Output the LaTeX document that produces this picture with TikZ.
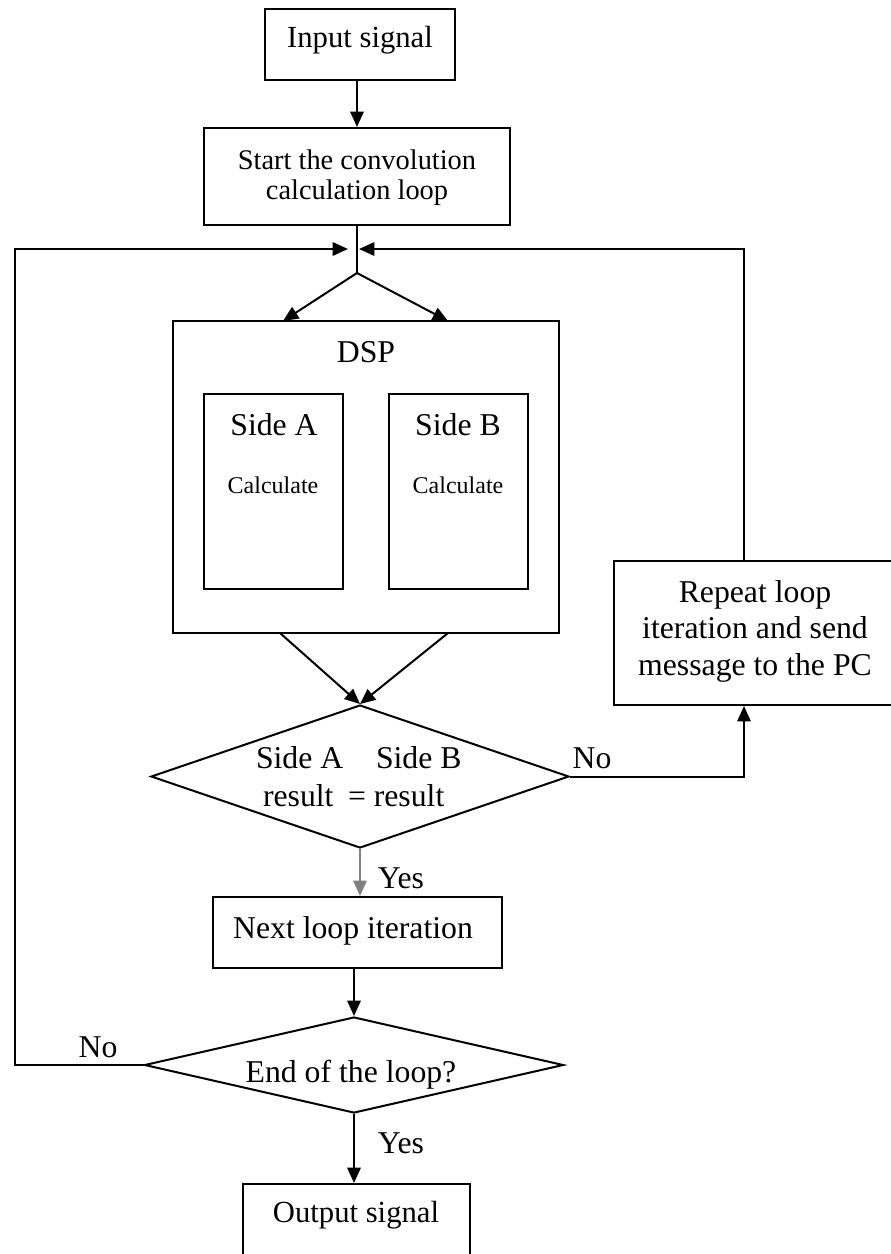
\documentclass[tikz,border=0pt]{standalone}
\usepackage{fontspec}
\setmainfont{Liberation Serif}
\usetikzlibrary{arrows.meta,shapes.geometric}
\begin{document}
\begin{tikzpicture}[x=0.75pt,y=-0.75pt,
  line width=1.5pt,
  box/.style={draw, rectangle, inner sep=0pt},
  dec/.style={draw, diamond, inner sep=0pt},
  txt/.style={inner sep=0pt, anchor=base, font=\fontsize{23.8}{27}\selectfont},
  small/.style={inner sep=0pt, anchor=base, font=\fontsize{18}{21}\selectfont},
  flow/.style={-{Triangle[length=11.5pt,width=10pt]}},
]
\useasboundingbox (0,0) rectangle (890,1254);

% process boxes
\node[box, minimum width=190*0.75pt, minimum height=71*0.75pt] (in) at (360,44.5) {};
\node[box, minimum width=306*0.75pt, minimum height=97*0.75pt] (start) at (357,176.5) {};
\node[box, minimum width=386*0.75pt, minimum height=312*0.75pt] (dsp) at (366,477) {};
\node[box, minimum width=139*0.75pt, minimum height=195*0.75pt] (sa) at (273.5,491.5) {};
\node[box, minimum width=139*0.75pt, minimum height=195*0.75pt] (sb) at (458.5,491.5) {};
\node[box, minimum width=292*0.75pt, minimum height=144*0.75pt] (rep) at (760,633) {};
\node[box, minimum width=289*0.75pt, minimum height=71*0.75pt] (next) at (357.5,932.5) {};
\node[box, minimum width=227*0.75pt, minimum height=80*0.75pt] (out) at (356.5,1224) {};

% decisions
\node[dec, minimum width=418*0.75pt, minimum height=143*0.75pt] (d1) at (360,776.5) {};
\node[dec, minimum width=419*0.75pt, minimum height=96*0.75pt] (d2) at (354,1065) {};

% texts
\node[txt, font=\fontsize{23}{26}\selectfont] (tin) at (360,47) {Input signal};
\node[txt, font=\fontsize{21.3}{22.5}\selectfont] (tst1) at (357,169) {Start the convolution};
\node[txt, font=\fontsize{21.3}{22.5}\selectfont] (tst2) at (357,199) {calculation loop};
\node[txt] (tdsp) at (366,362) {DSP};
\node[txt] (tsa) at (274,435) {Side A};
\node[txt] (tsb) at (458,435) {Side B};
\node[small] (tca) at (273,493) {Calculate};
\node[small] (tcb) at (458,493) {Calculate};
\node[txt, anchor=base west] (td1a) at (255,768) {Side A};
\node[txt, anchor=base west] (td1b) at (375,768) {Side B};
\node[txt, anchor=base west] (td1c) at (262,806) {result};
\node[txt, anchor=base west] (td1d) at (347,806) {= result};
\node[txt] (trep1) at (755,602) {Repeat loop};
\node[txt] (trep2) at (755,638) {iteration and send};
\node[txt] (trep3) at (755,675) {message to the PC};
\node[txt] (tno1) at (592,768) {No};
\node[txt] (tyes1) at (401,888) {Yes};
\node[txt] (tnext) at (353,938) {Next loop iteration};
\node[txt] (td2) at (351,1082) {End of the loop?};
\node[txt] (tno2) at (98,1057) {No};
\node[txt] (tyes2) at (401,1153) {Yes};
\node[txt, font=\fontsize{23}{26}\selectfont] (tout) at (356,1222) {Output signal};

% junction points of the loop
\coordinate (split) at (357,273);
\coordinate (mL) at (348,249);
\coordinate (mR) at (359,249);
\coordinate (lx) at (15,249);
\coordinate (rx) at (744,249);
\coordinate (dinA) at (283,321);
\coordinate (dinB) at (448,321);
\coordinate (doutA) at (280,633);
\coordinate (doutB) at (448,633);

% connectors
\draw[flow] (start.north |- in.south) -- (start.north);
\draw (start.south) -- (split);
\draw[flow] (split) -- (dinA);
\draw[flow] (split) -- (dinB);
\draw[flow] (doutA) -- (d1.north);
\draw[flow] (doutB) -- (d1.north);
\draw[flow] (d1.east) -| (rep.south -| rx);
\draw[flow] (rep.north -| rx) |- (mR);
\draw[flow] (d2.west) -- (d2.west -| lx) |- (mL);
\draw[flow, draw=black!50, fill=black!50] (d1.south) -- (d1.south |- next.north);
\draw[flow] (next.south -| d2.north) -- (d2.north);
\draw[flow] (d2.south) -- (d2.south |- out.north);
\end{tikzpicture}
\end{document}
